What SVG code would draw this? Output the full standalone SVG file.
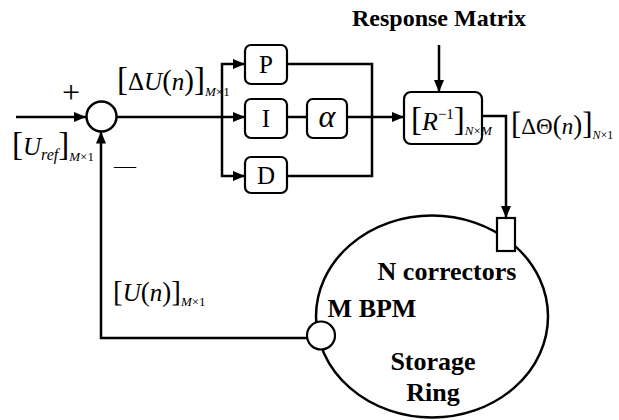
<svg xmlns="http://www.w3.org/2000/svg" width="619" height="420" viewBox="0 0 619 420">
<defs>
<style>
.ln{fill:none;stroke:#000;stroke-width:2.5}
.bx{fill:#fff;stroke:#000;stroke-width:2.2}
.t{font-family:"Liberation Serif","Times New Roman",serif;fill:#000}
.b{font-family:"Liberation Serif","Times New Roman",serif;font-weight:bold;fill:#000}
.i{font-style:italic}
</style>
<marker id="ar" markerWidth="12" markerHeight="10" refX="12" refY="5" orient="auto" markerUnits="userSpaceOnUse">
<path d="M0,0 L12,5 L0,10 Z" fill="#000"/>
</marker>
</defs>
<rect width="619" height="420" fill="#fff"/>

<g id="connectors">
<path class="ln" d="M16,117 H86" marker-end="url(#ar)"/>
<path class="ln" d="M116.5,117 H245" marker-end="url(#ar)"/>
<path class="ln" d="M222,117 V64 H245" marker-end="url(#ar)"/>
<path class="ln" d="M222,117 V176 H245" marker-end="url(#ar)"/>
<path class="ln" d="M287,117 H307"/>
<path class="ln" d="M347,117 H404" marker-end="url(#ar)"/>
<path class="ln" d="M287,64 H372 V176 H287"/>
<path class="ln" d="M439,45 V92" marker-end="url(#ar)"/>
<path class="ln" d="M482,116 H506 V218" marker-end="url(#ar)"/>
<path class="ln" d="M307,338 H101 V131.5" marker-end="url(#ar)"/>
</g>

<g id="sum">
<circle cx="101.5" cy="116.5" r="15" fill="#fff" stroke="#000" stroke-width="2.5"/>
<text class="t" x="71" y="103" font-size="32" text-anchor="middle">+</text>
<text class="t" x="125" y="173" font-size="22" text-anchor="middle">—</text>
</g>

<g id="label-uref">
<text class="t" x="12" y="155" font-size="25"><tspan font-size="33">[</tspan><tspan class="i">U</tspan><tspan class="i" font-size="16" dy="5">ref</tspan><tspan font-size="33" dy="-5">]</tspan><tspan class="i" font-size="13" dy="6">M</tspan><tspan font-size="13">×1</tspan></text>
</g>

<g id="label-du">
<text class="t" x="117" y="90" font-size="25"><tspan font-size="33">[</tspan><tspan>Δ</tspan><tspan class="i">U</tspan><tspan font-size="29">(</tspan><tspan class="i">n</tspan><tspan font-size="29">)</tspan><tspan font-size="33">]</tspan><tspan class="i" font-size="13" dy="6">M</tspan><tspan font-size="13">×1</tspan></text>
</g>

<g id="P">
<rect class="bx" x="245" y="45" width="42" height="39" rx="6"/>
<text class="t" x="266" y="73" font-size="25" text-anchor="middle">P</text>
</g>
<g id="I">
<rect class="bx" x="245" y="99" width="42" height="39" rx="6"/>
<text class="t" x="266" y="127" font-size="25" text-anchor="middle">I</text>
</g>
<g id="D">
<rect class="bx" x="245" y="157" width="42" height="36" rx="6"/>
<text class="t" x="266" y="184" font-size="25" text-anchor="middle">D</text>
</g>
<g id="alpha">
<rect class="bx" x="307" y="99" width="40" height="39" rx="6"/>
<text class="t i" x="327" y="127" font-size="32" text-anchor="middle">α</text>
</g>

<g id="response-matrix">
<text class="b" x="439" y="26" font-size="24" text-anchor="middle">Response Matrix</text>
</g>

<g id="Rinv">
<rect class="bx" x="404" y="92" width="78" height="52" rx="7"/>
<text class="t" x="411" y="130" font-size="26"><tspan font-size="33">[</tspan><tspan class="i">R</tspan><tspan font-size="15" dy="-11">−1</tspan><tspan font-size="33" dy="11">]</tspan><tspan class="i" font-size="13" dy="5">N</tspan><tspan font-size="13">×</tspan><tspan class="i" font-size="13">M</tspan></text>
</g>

<g id="label-dtheta">
<text class="t" x="511" y="134" font-size="23"><tspan font-size="31">[</tspan><tspan>ΔΘ</tspan><tspan font-size="27">(</tspan><tspan class="i">n</tspan><tspan font-size="27">)</tspan><tspan font-size="31">]</tspan><tspan class="i" font-size="12" dy="5">N</tspan><tspan font-size="12">×1</tspan></text>
</g>

<g id="label-un">
<text class="t" x="113" y="301" font-size="25"><tspan font-size="29">[</tspan><tspan class="i">U</tspan><tspan font-size="27">(</tspan><tspan class="i">n</tspan><tspan font-size="27">)</tspan><tspan font-size="29">]</tspan><tspan class="i" font-size="13" dy="5">M</tspan><tspan font-size="13">×1</tspan></text>
</g>

<g id="ring">
<ellipse cx="432" cy="316.5" rx="116" ry="101" fill="none" stroke="#000" stroke-width="2.5"/>
<text class="b" x="447" y="280" font-size="26" text-anchor="middle">N correctors</text>
<text class="b" x="372" y="317" font-size="26" text-anchor="middle">M BPM</text>
<text class="b" x="433" y="370" font-size="26" text-anchor="middle">Storage</text>
<text class="b" x="433" y="401" font-size="26" text-anchor="middle">Ring</text>
</g>

<g id="corrector">
<rect class="bx" x="497" y="218" width="18" height="33"/>
</g>

<g id="bpm">
<circle cx="321" cy="335.5" r="14" fill="#fff" stroke="#000" stroke-width="2.2"/>
</g>
</svg>
